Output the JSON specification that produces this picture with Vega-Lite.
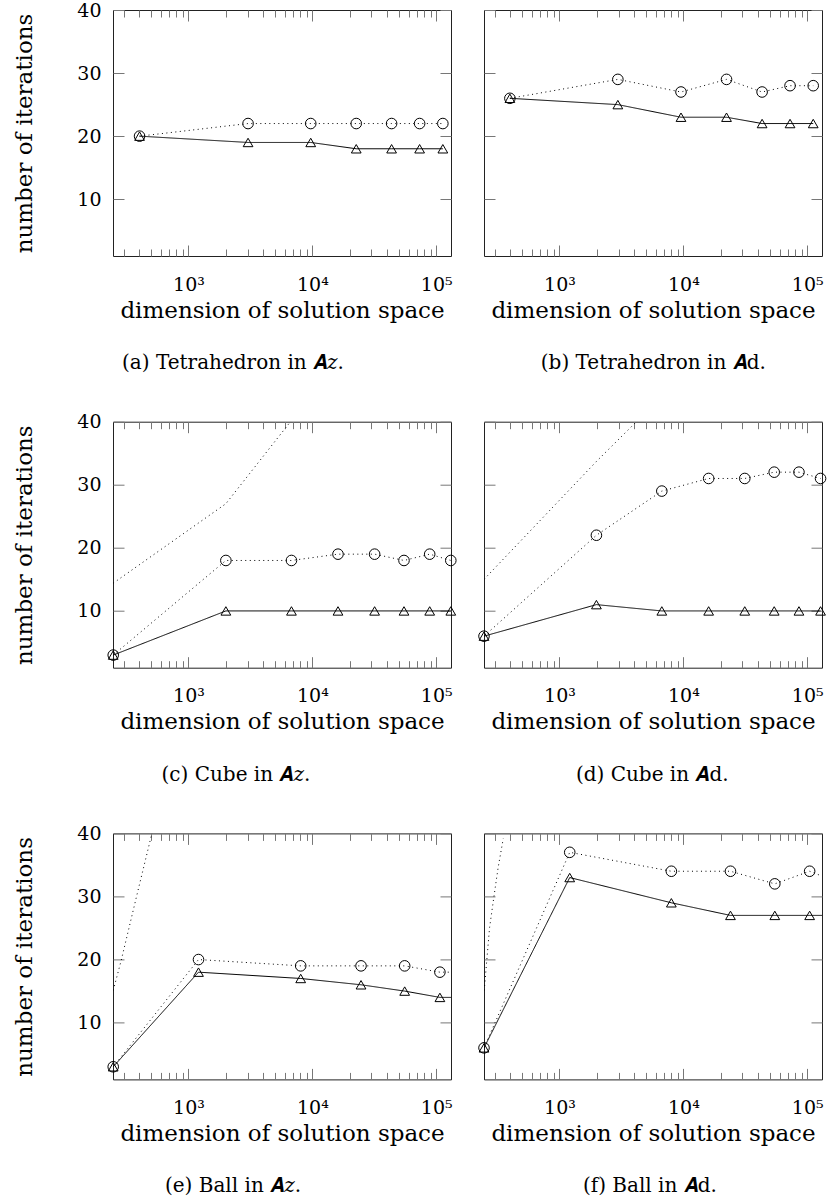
{
  "$schema": "https://vega.github.io/schema/vega-lite/v6.json",
  "padding": {"left": 13, "top": 0, "right": 0, "bottom": 0},
  "config": {
    "font": "DejaVu Serif",
    "view": {"stroke": "#222", "strokeWidth": 1},
    "axis": {"grid": false, "domain": false, "tickColor": "#777", "tickWidth": 1, "labelColor": "#000", "labelFont": "DejaVu Serif", "labelFontSize": 19, "titleFont": "DejaVu Serif", "titleFontSize": 23, "titleFontWeight": "normal", "titleColor": "#000", "labelOverlap": false, "labelFlush": false, "labelBound": false},
    "title": {"font": "DejaVu Serif", "fontSize": 20, "fontWeight": "normal", "color": "#000"}
  },
  "datasets": {
    "pts": [
      {"p":"a","s":"circ","n":403,"v":20},{"p":"a","s":"circ","n":3027,"v":22},{"p":"a","s":"circ","n":9700,"v":22},{"p":"a","s":"circ","n":22600,"v":22},{"p":"a","s":"circ","n":43600,"v":22},{"p":"a","s":"circ","n":73400,"v":22},{"p":"a","s":"circ","n":113000,"v":22},
      {"p":"a","s":"tri","n":403,"v":20},{"p":"a","s":"tri","n":3027,"v":19},{"p":"a","s":"tri","n":9700,"v":19},{"p":"a","s":"tri","n":22600,"v":18},{"p":"a","s":"tri","n":43600,"v":18},{"p":"a","s":"tri","n":73400,"v":18},{"p":"a","s":"tri","n":113000,"v":18},
      {"p":"b","s":"circ","n":398,"v":26},{"p":"b","s":"circ","n":2960,"v":29},{"p":"b","s":"circ","n":9570,"v":27},{"p":"b","s":"circ","n":22300,"v":29},{"p":"b","s":"circ","n":43200,"v":27},{"p":"b","s":"circ","n":72600,"v":28},{"p":"b","s":"circ","n":111700,"v":28},
      {"p":"b","s":"tri","n":398,"v":26},{"p":"b","s":"tri","n":2960,"v":25},{"p":"b","s":"tri","n":9570,"v":23},{"p":"b","s":"tri","n":22300,"v":23},{"p":"b","s":"tri","n":43200,"v":22},{"p":"b","s":"tri","n":72600,"v":22},{"p":"b","s":"tri","n":111700,"v":22},
      {"p":"c","s":"circ","n":247,"v":3},{"p":"c","s":"circ","n":2004,"v":18},{"p":"c","s":"circ","n":6780,"v":18},{"p":"c","s":"circ","n":16100,"v":19},{"p":"c","s":"circ","n":31800,"v":19},{"p":"c","s":"circ","n":54900,"v":18},{"p":"c","s":"circ","n":88500,"v":19},{"p":"c","s":"circ","n":131000,"v":18},
      {"p":"c","s":"tri","n":247,"v":3},{"p":"c","s":"tri","n":2004,"v":10},{"p":"c","s":"tri","n":6780,"v":10},{"p":"c","s":"tri","n":16100,"v":10},{"p":"c","s":"tri","n":31800,"v":10},{"p":"c","s":"tri","n":54900,"v":10},{"p":"c","s":"tri","n":88500,"v":10},{"p":"c","s":"tri","n":131000,"v":10},
      {"p":"c","s":"ref","n":247,"v":14.4},{"p":"c","s":"ref","n":2004,"v":27},{"p":"c","s":"ref","n":6780,"v":40.2},{"p":"c","s":"ref","n":16100,"v":53},
      {"p":"d","s":"circ","n":246,"v":6},{"p":"d","s":"circ","n":1987,"v":22},{"p":"d","s":"circ","n":6700,"v":29},{"p":"d","s":"circ","n":16000,"v":31},{"p":"d","s":"circ","n":31300,"v":31},{"p":"d","s":"circ","n":54100,"v":32},{"p":"d","s":"circ","n":85700,"v":32},{"p":"d","s":"circ","n":128000,"v":31},
      {"p":"d","s":"tri","n":246,"v":6},{"p":"d","s":"tri","n":1987,"v":11},{"p":"d","s":"tri","n":6700,"v":10},{"p":"d","s":"tri","n":16000,"v":10},{"p":"d","s":"tri","n":31300,"v":10},{"p":"d","s":"tri","n":54100,"v":10},{"p":"d","s":"tri","n":85700,"v":10},{"p":"d","s":"tri","n":128000,"v":10},
      {"p":"d","s":"ref","n":246,"v":15},{"p":"d","s":"ref","n":1987,"v":33.7},{"p":"d","s":"ref","n":6700,"v":44},
      {"p":"e","s":"circ","n":247,"v":3},{"p":"e","s":"circ","n":1205,"v":20},{"p":"e","s":"circ","n":8050,"v":19},{"p":"e","s":"circ","n":24700,"v":19},{"p":"e","s":"circ","n":55600,"v":19},{"p":"e","s":"circ","n":107000,"v":18},{"p":"e","s":"circ","n":190000,"v":18},
      {"p":"e","s":"tri","n":247,"v":3},{"p":"e","s":"tri","n":1205,"v":18},{"p":"e","s":"tri","n":8050,"v":17},{"p":"e","s":"tri","n":24700,"v":16},{"p":"e","s":"tri","n":55600,"v":15},{"p":"e","s":"tri","n":107000,"v":14},{"p":"e","s":"tri","n":190000,"v":14},
      {"p":"e","s":"ref","n":247,"v":15.1},{"p":"e","s":"ref","n":286,"v":19.8},{"p":"e","s":"ref","n":381,"v":30},{"p":"e","s":"ref","n":507,"v":40},{"p":"e","s":"ref","n":560,"v":44},
      {"p":"f","s":"circ","n":246,"v":6},{"p":"f","s":"circ","n":1210,"v":37},{"p":"f","s":"circ","n":8000,"v":34},{"p":"f","s":"circ","n":24000,"v":34},{"p":"f","s":"circ","n":54700,"v":32},{"p":"f","s":"circ","n":104500,"v":34},{"p":"f","s":"circ","n":190000,"v":32},
      {"p":"f","s":"tri","n":246,"v":6},{"p":"f","s":"tri","n":1210,"v":33},{"p":"f","s":"tri","n":8000,"v":29},{"p":"f","s":"tri","n":24000,"v":27},{"p":"f","s":"tri","n":54700,"v":27},{"p":"f","s":"tri","n":104500,"v":27},{"p":"f","s":"tri","n":190000,"v":27},
      {"p":"f","s":"ref","n":247,"v":15.1},{"p":"f","s":"ref","n":273,"v":25.1},{"p":"f","s":"ref","n":296,"v":30},{"p":"f","s":"ref","n":320,"v":34.6},{"p":"f","s":"ref","n":352,"v":39.2}
    ]
  },
  "columns": 2,
  "bounds": "flush",
  "spacing": {"row": 165.7, "column": 33},
  "concat": [
    {
      "width": 338, "height": 246,
      "title": {"text": "(a) Tetrahedron in 𝑨𝑧.", "orient": "bottom", "anchor": "middle", "frame": "bounds", "offset": 31},
      "data": {"name": "pts"},
      "transform": [{"filter": "datum.p == 'a'"}],
      "layer": [
        {"mark": {"type": "line", "clip": true, "color": "#000", "strokeWidth": 1},
         "encoding": {
           "x": {"field": "n", "type": "quantitative", "scale": {"type": "log", "domain": [246, 131500], "nice": false}, "axis": {"orient": "bottom", "values": [300,400,500,600,700,800,900,1000,2000,3000,4000,5000,6000,7000,8000,9000,10000,20000,30000,40000,50000,60000,70000,80000,90000,100000], "tickSize": {"condition": {"test": "datum.value == 1000 || datum.value == 10000 || datum.value == 100000", "value": -11}, "value": -7}, "labelExpr": "datum.value == 1000 ? '10³' : datum.value == 10000 ? '10⁴' : datum.value == 100000 ? '10⁵' : ''", "labelPadding": 30, "title": "dimension of solution space", "titlePadding": 1}},
           "y": {"field": "v", "type": "quantitative", "scale": {"domain": [1, 40], "nice": false, "zero": false}, "axis": {"orient": "left", "values": [10,20,30,40], "tickSize": -11, "labelPadding": 23, "title": "number of iterations", "titlePadding": 40}},
           "strokeDash": {"field": "s", "type": "nominal", "scale": {"domain": ["tri","circ","ref"], "range": [[1,0],[1,3.5],[1,3.5]]}, "legend": null}
         }},
        {"transform": [{"filter": "datum.s != 'ref' && datum.n < 140000"}],
         "mark": {"type": "point", "filled": false, "color": "#000", "strokeWidth": 1, "opacity": 1},
         "encoding": {
           "x": {"field": "n", "type": "quantitative", "axis": {"orient": "top", "values": [300,400,500,600,700,800,900,1000,2000,3000,4000,5000,6000,7000,8000,9000,10000,20000,30000,40000,50000,60000,70000,80000,90000,100000], "tickSize": {"condition": {"test": "datum.value == 1000 || datum.value == 10000 || datum.value == 100000", "value": -11}, "value": -7}, "labels": false, "title": null}},
           "y": {"field": "v", "type": "quantitative", "axis": {"orient": "right", "values": [10,20,30,40], "tickSize": -11, "labels": false, "title": null}},
           "shape": {"field": "s", "type": "nominal", "scale": {"domain": ["circ","tri"], "range": ["circle","triangle-up"]}, "legend": null},
           "size": {"field": "s", "type": "ordinal", "scale": {"domain": ["circ","tri"], "range": [112, 95]}, "legend": null}
         }}
      ],
      "resolve": {"axis": {"x": "independent", "y": "independent"}}
    },
    {
      "width": 338, "height": 246,
      "title": {"text": "(b) Tetrahedron in 𝑨d.", "orient": "bottom", "anchor": "middle", "frame": "bounds", "offset": 31},
      "data": {"name": "pts"},
      "transform": [{"filter": "datum.p == 'b'"}],
      "layer": [
        {"mark": {"type": "line", "clip": true, "color": "#000", "strokeWidth": 1},
         "encoding": {
           "x": {"field": "n", "type": "quantitative", "scale": {"type": "log", "domain": [246, 131500], "nice": false}, "axis": {"orient": "bottom", "values": [300,400,500,600,700,800,900,1000,2000,3000,4000,5000,6000,7000,8000,9000,10000,20000,30000,40000,50000,60000,70000,80000,90000,100000], "tickSize": {"condition": {"test": "datum.value == 1000 || datum.value == 10000 || datum.value == 100000", "value": -11}, "value": -7}, "labelExpr": "datum.value == 1000 ? '10³' : datum.value == 10000 ? '10⁴' : datum.value == 100000 ? '10⁵' : ''", "labelPadding": 30, "title": "dimension of solution space", "titlePadding": 1}},
           "y": {"field": "v", "type": "quantitative", "scale": {"domain": [1, 40], "nice": false, "zero": false}, "axis": {"orient": "left", "values": [10,20,30,40], "tickSize": -11, "labels": false, "title": null}},
           "strokeDash": {"field": "s", "type": "nominal", "scale": {"domain": ["tri","circ","ref"], "range": [[1,0],[1,3.5],[1,3.5]]}, "legend": null}
         }},
        {"transform": [{"filter": "datum.s != 'ref' && datum.n < 140000"}],
         "mark": {"type": "point", "filled": false, "color": "#000", "strokeWidth": 1, "opacity": 1},
         "encoding": {
           "x": {"field": "n", "type": "quantitative", "axis": {"orient": "top", "values": [300,400,500,600,700,800,900,1000,2000,3000,4000,5000,6000,7000,8000,9000,10000,20000,30000,40000,50000,60000,70000,80000,90000,100000], "tickSize": {"condition": {"test": "datum.value == 1000 || datum.value == 10000 || datum.value == 100000", "value": -11}, "value": -7}, "labels": false, "title": null}},
           "y": {"field": "v", "type": "quantitative", "axis": {"orient": "right", "values": [10,20,30,40], "tickSize": -11, "labels": false, "title": null}},
           "shape": {"field": "s", "type": "nominal", "scale": {"domain": ["circ","tri"], "range": ["circle","triangle-up"]}, "legend": null},
           "size": {"field": "s", "type": "ordinal", "scale": {"domain": ["circ","tri"], "range": [112, 95]}, "legend": null}
         }}
      ],
      "resolve": {"axis": {"x": "independent", "y": "independent"}}
    },
    {
      "width": 338, "height": 246,
      "title": {"text": "(c) Cube in 𝑨𝑧.", "orient": "bottom", "anchor": "middle", "frame": "bounds", "offset": 31},
      "data": {"name": "pts"},
      "transform": [{"filter": "datum.p == 'c'"}],
      "layer": [
        {"mark": {"type": "line", "clip": true, "color": "#000", "strokeWidth": 1},
         "encoding": {
           "x": {"field": "n", "type": "quantitative", "scale": {"type": "log", "domain": [246, 131500], "nice": false}, "axis": {"orient": "bottom", "values": [300,400,500,600,700,800,900,1000,2000,3000,4000,5000,6000,7000,8000,9000,10000,20000,30000,40000,50000,60000,70000,80000,90000,100000], "tickSize": {"condition": {"test": "datum.value == 1000 || datum.value == 10000 || datum.value == 100000", "value": -11}, "value": -7}, "labelExpr": "datum.value == 1000 ? '10³' : datum.value == 10000 ? '10⁴' : datum.value == 100000 ? '10⁵' : ''", "labelPadding": 30, "title": "dimension of solution space", "titlePadding": 1}},
           "y": {"field": "v", "type": "quantitative", "scale": {"domain": [1, 40], "nice": false, "zero": false}, "axis": {"orient": "left", "values": [10,20,30,40], "tickSize": -11, "labelPadding": 23, "title": "number of iterations", "titlePadding": 40}},
           "strokeDash": {"field": "s", "type": "nominal", "scale": {"domain": ["tri","circ","ref"], "range": [[1,0],[1,3.5],[1,3.5]]}, "legend": null}
         }},
        {"transform": [{"filter": "datum.s != 'ref' && datum.n < 140000"}],
         "mark": {"type": "point", "filled": false, "color": "#000", "strokeWidth": 1, "opacity": 1},
         "encoding": {
           "x": {"field": "n", "type": "quantitative", "axis": {"orient": "top", "values": [300,400,500,600,700,800,900,1000,2000,3000,4000,5000,6000,7000,8000,9000,10000,20000,30000,40000,50000,60000,70000,80000,90000,100000], "tickSize": {"condition": {"test": "datum.value == 1000 || datum.value == 10000 || datum.value == 100000", "value": -11}, "value": -7}, "labels": false, "title": null}},
           "y": {"field": "v", "type": "quantitative", "axis": {"orient": "right", "values": [10,20,30,40], "tickSize": -11, "labels": false, "title": null}},
           "shape": {"field": "s", "type": "nominal", "scale": {"domain": ["circ","tri"], "range": ["circle","triangle-up"]}, "legend": null},
           "size": {"field": "s", "type": "ordinal", "scale": {"domain": ["circ","tri"], "range": [112, 95]}, "legend": null}
         }}
      ],
      "resolve": {"axis": {"x": "independent", "y": "independent"}}
    },
    {
      "width": 338, "height": 246,
      "title": {"text": "(d) Cube in 𝑨d.", "orient": "bottom", "anchor": "middle", "frame": "bounds", "offset": 31},
      "data": {"name": "pts"},
      "transform": [{"filter": "datum.p == 'd'"}],
      "layer": [
        {"mark": {"type": "line", "clip": true, "color": "#000", "strokeWidth": 1},
         "encoding": {
           "x": {"field": "n", "type": "quantitative", "scale": {"type": "log", "domain": [246, 131500], "nice": false}, "axis": {"orient": "bottom", "values": [300,400,500,600,700,800,900,1000,2000,3000,4000,5000,6000,7000,8000,9000,10000,20000,30000,40000,50000,60000,70000,80000,90000,100000], "tickSize": {"condition": {"test": "datum.value == 1000 || datum.value == 10000 || datum.value == 100000", "value": -11}, "value": -7}, "labelExpr": "datum.value == 1000 ? '10³' : datum.value == 10000 ? '10⁴' : datum.value == 100000 ? '10⁵' : ''", "labelPadding": 30, "title": "dimension of solution space", "titlePadding": 1}},
           "y": {"field": "v", "type": "quantitative", "scale": {"domain": [1, 40], "nice": false, "zero": false}, "axis": {"orient": "left", "values": [10,20,30,40], "tickSize": -11, "labels": false, "title": null}},
           "strokeDash": {"field": "s", "type": "nominal", "scale": {"domain": ["tri","circ","ref"], "range": [[1,0],[1,3.5],[1,3.5]]}, "legend": null}
         }},
        {"transform": [{"filter": "datum.s != 'ref' && datum.n < 140000"}],
         "mark": {"type": "point", "filled": false, "color": "#000", "strokeWidth": 1, "opacity": 1},
         "encoding": {
           "x": {"field": "n", "type": "quantitative", "axis": {"orient": "top", "values": [300,400,500,600,700,800,900,1000,2000,3000,4000,5000,6000,7000,8000,9000,10000,20000,30000,40000,50000,60000,70000,80000,90000,100000], "tickSize": {"condition": {"test": "datum.value == 1000 || datum.value == 10000 || datum.value == 100000", "value": -11}, "value": -7}, "labels": false, "title": null}},
           "y": {"field": "v", "type": "quantitative", "axis": {"orient": "right", "values": [10,20,30,40], "tickSize": -11, "labels": false, "title": null}},
           "shape": {"field": "s", "type": "nominal", "scale": {"domain": ["circ","tri"], "range": ["circle","triangle-up"]}, "legend": null},
           "size": {"field": "s", "type": "ordinal", "scale": {"domain": ["circ","tri"], "range": [112, 95]}, "legend": null}
         }}
      ],
      "resolve": {"axis": {"x": "independent", "y": "independent"}}
    },
    {
      "width": 338, "height": 246,
      "title": {"text": "(e) Ball in 𝑨𝑧.", "orient": "bottom", "anchor": "middle", "frame": "bounds", "offset": 31},
      "data": {"name": "pts"},
      "transform": [{"filter": "datum.p == 'e'"}],
      "layer": [
        {"mark": {"type": "line", "clip": true, "color": "#000", "strokeWidth": 1},
         "encoding": {
           "x": {"field": "n", "type": "quantitative", "scale": {"type": "log", "domain": [246, 131500], "nice": false}, "axis": {"orient": "bottom", "values": [300,400,500,600,700,800,900,1000,2000,3000,4000,5000,6000,7000,8000,9000,10000,20000,30000,40000,50000,60000,70000,80000,90000,100000], "tickSize": {"condition": {"test": "datum.value == 1000 || datum.value == 10000 || datum.value == 100000", "value": -11}, "value": -7}, "labelExpr": "datum.value == 1000 ? '10³' : datum.value == 10000 ? '10⁴' : datum.value == 100000 ? '10⁵' : ''", "labelPadding": 30, "title": "dimension of solution space", "titlePadding": 1}},
           "y": {"field": "v", "type": "quantitative", "scale": {"domain": [1, 40], "nice": false, "zero": false}, "axis": {"orient": "left", "values": [10,20,30,40], "tickSize": -11, "labelPadding": 23, "title": "number of iterations", "titlePadding": 40}},
           "strokeDash": {"field": "s", "type": "nominal", "scale": {"domain": ["tri","circ","ref"], "range": [[1,0],[1,3.5],[1,3.5]]}, "legend": null}
         }},
        {"transform": [{"filter": "datum.s != 'ref' && datum.n < 140000"}],
         "mark": {"type": "point", "filled": false, "color": "#000", "strokeWidth": 1, "opacity": 1},
         "encoding": {
           "x": {"field": "n", "type": "quantitative", "axis": {"orient": "top", "values": [300,400,500,600,700,800,900,1000,2000,3000,4000,5000,6000,7000,8000,9000,10000,20000,30000,40000,50000,60000,70000,80000,90000,100000], "tickSize": {"condition": {"test": "datum.value == 1000 || datum.value == 10000 || datum.value == 100000", "value": -11}, "value": -7}, "labels": false, "title": null}},
           "y": {"field": "v", "type": "quantitative", "axis": {"orient": "right", "values": [10,20,30,40], "tickSize": -11, "labels": false, "title": null}},
           "shape": {"field": "s", "type": "nominal", "scale": {"domain": ["circ","tri"], "range": ["circle","triangle-up"]}, "legend": null},
           "size": {"field": "s", "type": "ordinal", "scale": {"domain": ["circ","tri"], "range": [112, 95]}, "legend": null}
         }}
      ],
      "resolve": {"axis": {"x": "independent", "y": "independent"}}
    },
    {
      "width": 338, "height": 246,
      "title": {"text": "(f) Ball in 𝑨d.", "orient": "bottom", "anchor": "middle", "frame": "bounds", "offset": 31},
      "data": {"name": "pts"},
      "transform": [{"filter": "datum.p == 'f'"}],
      "layer": [
        {"mark": {"type": "line", "clip": true, "color": "#000", "strokeWidth": 1},
         "encoding": {
           "x": {"field": "n", "type": "quantitative", "scale": {"type": "log", "domain": [246, 131500], "nice": false}, "axis": {"orient": "bottom", "values": [300,400,500,600,700,800,900,1000,2000,3000,4000,5000,6000,7000,8000,9000,10000,20000,30000,40000,50000,60000,70000,80000,90000,100000], "tickSize": {"condition": {"test": "datum.value == 1000 || datum.value == 10000 || datum.value == 100000", "value": -11}, "value": -7}, "labelExpr": "datum.value == 1000 ? '10³' : datum.value == 10000 ? '10⁴' : datum.value == 100000 ? '10⁵' : ''", "labelPadding": 30, "title": "dimension of solution space", "titlePadding": 1}},
           "y": {"field": "v", "type": "quantitative", "scale": {"domain": [1, 40], "nice": false, "zero": false}, "axis": {"orient": "left", "values": [10,20,30,40], "tickSize": -11, "labels": false, "title": null}},
           "strokeDash": {"field": "s", "type": "nominal", "scale": {"domain": ["tri","circ","ref"], "range": [[1,0],[1,3.5],[1,3.5]]}, "legend": null}
         }},
        {"transform": [{"filter": "datum.s != 'ref' && datum.n < 140000"}],
         "mark": {"type": "point", "filled": false, "color": "#000", "strokeWidth": 1, "opacity": 1},
         "encoding": {
           "x": {"field": "n", "type": "quantitative", "axis": {"orient": "top", "values": [300,400,500,600,700,800,900,1000,2000,3000,4000,5000,6000,7000,8000,9000,10000,20000,30000,40000,50000,60000,70000,80000,90000,100000], "tickSize": {"condition": {"test": "datum.value == 1000 || datum.value == 10000 || datum.value == 100000", "value": -11}, "value": -7}, "labels": false, "title": null}},
           "y": {"field": "v", "type": "quantitative", "axis": {"orient": "right", "values": [10,20,30,40], "tickSize": -11, "labels": false, "title": null}},
           "shape": {"field": "s", "type": "nominal", "scale": {"domain": ["circ","tri"], "range": ["circle","triangle-up"]}, "legend": null},
           "size": {"field": "s", "type": "ordinal", "scale": {"domain": ["circ","tri"], "range": [112, 95]}, "legend": null}
         }}
      ],
      "resolve": {"axis": {"x": "independent", "y": "independent"}}
    }
  ]
}
